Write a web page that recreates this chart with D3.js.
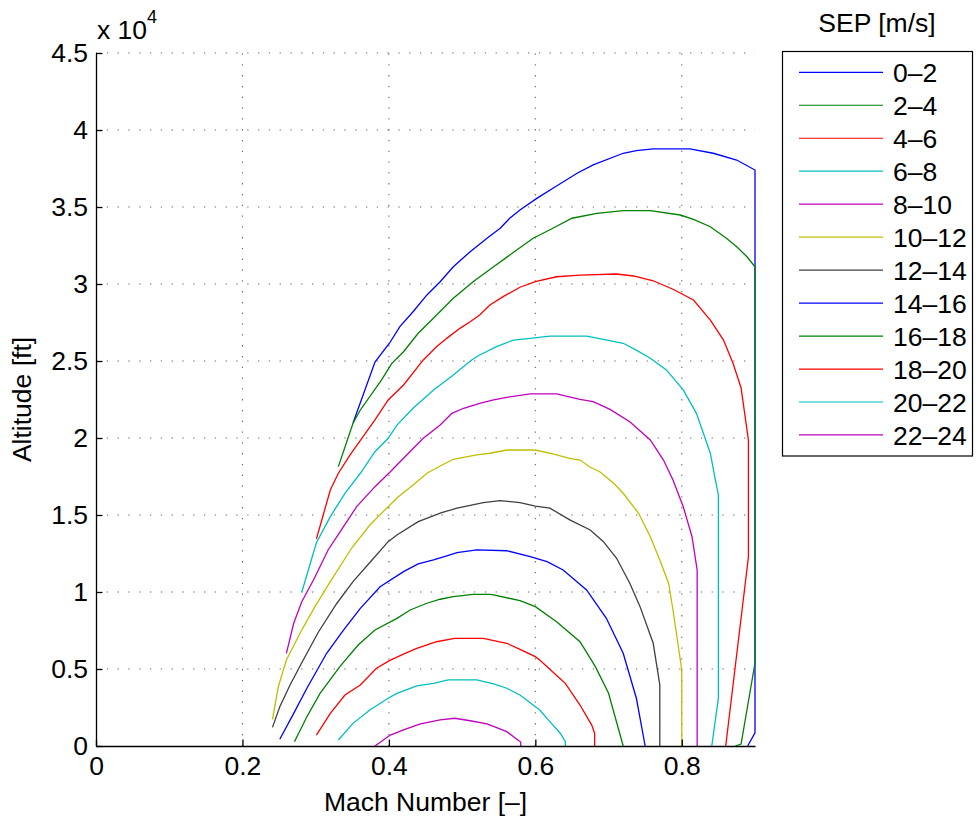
<!DOCTYPE html>
<html>
<head>
<meta charset="utf-8">
<script src="https://cdn.jsdelivr.net/npm/d3@7"></script>
<style>
  body { margin: 0; background: #fff; }
  svg text { font-family: "Liberation Sans", Arial, Helvetica, sans-serif; fill: #000; }
</style>
</head>
<body>
<div id="chart"></div>
<script>
// SEP contours, [Mach, altitude ft]
const sep0to2 = [[0.351,20970],[0.381,24930],[0.401,26170],[0.415,27230],[0.433,28200],[0.452,29290],[0.470,30150],[0.488,31120],[0.511,32100],[0.534,32970],[0.552,33620],[0.565,34270],[0.579,34800],[0.602,35560],[0.629,36360],[0.657,37190],[0.679,37730],[0.720,38490],[0.738,38660],[0.761,38770],[0.811,38770],[0.843,38490],[0.875,38050],[0.900,37400],[0.900,850],[0.890,0]];
const sep2to4 = [[0.331,18140],[0.351,20960],[0.361,21820],[0.390,23770],[0.404,24850],[0.420,25600],[0.440,26800],[0.456,27550],[0.472,28310],[0.488,29070],[0.515,30150],[0.543,31120],[0.565,31880],[0.597,32970],[0.622,33570],[0.650,34270],[0.684,34590],[0.720,34760],[0.757,34760],[0.798,34480],[0.816,34200],[0.839,33720],[0.861,32970],[0.875,32420],[0.889,31770],[0.900,31120],[0.900,5390],[0.881,130],[0.873,0]];
const sep4to6 = [[0.301,13440],[0.320,16620],[0.331,17710],[0.347,18900],[0.381,21170],[0.399,22470],[0.420,23440],[0.447,25070],[0.465,25930],[0.479,26470],[0.497,27120],[0.511,27550],[0.524,27990],[0.538,28640],[0.556,29180],[0.579,29790],[0.600,30150],[0.629,30470],[0.661,30580],[0.711,30650],[0.734,30520],[0.761,30210],[0.788,29660],[0.816,28960],[0.839,27660],[0.857,26360],[0.870,24850],[0.881,23250],[0.891,19870],[0.891,12270],[0.860,0]];
const sep6to8 = [[0.281,9980],[0.301,13200],[0.320,14890],[0.340,16410],[0.361,17710],[0.381,19110],[0.399,19980],[0.411,20840],[0.433,21930],[0.461,23120],[0.488,24090],[0.513,25070],[0.524,25390],[0.547,25930],[0.570,26360],[0.593,26470],[0.620,26620],[0.670,26620],[0.693,26410],[0.720,26150],[0.738,25710],[0.757,25180],[0.779,24420],[0.802,23120],[0.820,21600],[0.839,19010],[0.845,17490],[0.850,16300],[0.850,3120],[0.841,0]];
const sep8to10 = [[0.260,6020],[0.270,7970],[0.281,9370],[0.297,10780],[0.317,12730],[0.338,14240],[0.356,15540],[0.381,16840],[0.402,17810],[0.420,18680],[0.447,19980],[0.470,20840],[0.486,21600],[0.502,21930],[0.524,22250],[0.543,22470],[0.561,22640],[0.593,22860],[0.629,22860],[0.661,22510],[0.679,22360],[0.702,21860],[0.729,21060],[0.757,19870],[0.775,18570],[0.788,17270],[0.802,15540],[0.814,13590],[0.821,11430],[0.821,0]];
const sep10to12 = [[0.241,1730],[0.249,3850],[0.260,5580],[0.281,7530],[0.299,9050],[0.320,10670],[0.349,12840],[0.374,14350],[0.399,15540],[0.413,16190],[0.433,16950],[0.452,17710],[0.470,18180],[0.488,18620],[0.520,18900],[0.538,19010],[0.561,19220],[0.600,19220],[0.625,18960],[0.647,18680],[0.661,18570],[0.675,18100],[0.688,17810],[0.707,17060],[0.720,16410],[0.741,15110],[0.757,13590],[0.770,12080],[0.782,10570],[0.788,8830],[0.800,4940],[0.800,4290],[0.800,0]];
const sep12to14 = [[0.241,1210],[0.251,2550],[0.265,3960],[0.283,5580],[0.304,7420],[0.329,9270],[0.351,10670],[0.377,12080],[0.399,13270],[0.411,13700],[0.440,14570],[0.472,15150],[0.493,15440],[0.529,15800],[0.552,15930],[0.579,15800],[0.600,15580],[0.620,15440],[0.647,14680],[0.675,14030],[0.693,13270],[0.711,12190],[0.729,10570],[0.743,9050],[0.761,6670],[0.770,3960],[0.770,0]];
const sep14to16 = [[0.251,440],[0.270,2120],[0.288,3750],[0.315,6020],[0.338,7530],[0.361,8940],[0.388,10340],[0.420,11320],[0.440,11820],[0.461,12080],[0.479,12340],[0.493,12550],[0.520,12730],[0.561,12680],[0.593,12290],[0.616,11970],[0.638,11430],[0.670,10130],[0.697,8290],[0.720,6020],[0.738,3100],[0.750,0]];
const sep16to18 = [[0.271,280],[0.288,1900],[0.306,3420],[0.333,5150],[0.358,6560],[0.381,7530],[0.411,8290],[0.429,8830],[0.452,9270],[0.470,9530],[0.488,9700],[0.515,9850],[0.538,9850],[0.543,9810],[0.579,9440],[0.600,9050],[0.629,8070],[0.661,6770],[0.682,5150],[0.700,3420],[0.720,0]];
const sep18to20 = [[0.301,710],[0.320,2120],[0.340,3310],[0.361,3960],[0.383,5050],[0.402,5580],[0.420,5960],[0.438,6340],[0.465,6770],[0.490,6990],[0.529,6990],[0.561,6670],[0.579,6280],[0.600,5800],[0.606,5580],[0.631,4500],[0.641,4070],[0.661,2660],[0.677,1360],[0.681,830],[0.681,0]];
const sep20to22 = [[0.331,390],[0.351,1470],[0.374,2340],[0.399,3100],[0.411,3420],[0.438,3900],[0.461,4070],[0.481,4290],[0.520,4290],[0.543,4030],[0.561,3750],[0.579,3310],[0.597,2660],[0.606,2340],[0.622,1470],[0.634,830],[0.641,280],[0.641,0]];
const sep22to24 = [[0.381,0],[0.402,710],[0.420,1040],[0.443,1430],[0.470,1690],[0.490,1800],[0.511,1640],[0.534,1430],[0.561,930],[0.580,260],[0.580,0]];

const sepLabels = ["0–2","2–4","4–6","6–8","8–10","10–12","12–14","14–16","16–18","18–20","20–22","22–24"];
const sepLines = [sep0to2, sep2to4, sep4to6, sep6to8, sep8to10, sep10to12, sep12to14, sep14to16, sep16to18, sep18to20, sep20to22, sep22to24];
const lineColors = ["#0000ff","#008000","#ff0000","#00bfbf","#bf00bf","#bfbf00","#404040"];

const xTicks = [0, 0.2, 0.4, 0.6, 0.8];
const yTicks = [0, 5000, 10000, 15000, 20000, 25000, 30000, 35000, 40000, 45000];

const W = 976, H = 821;
const fontSize = 26.5;

const svg = d3.select("#chart").append("svg")
  .attr("width", W).attr("height", H);

const x = d3.scaleLinear().domain([0, 0.9]).range([96, 755]);
const y = d3.scaleLinear().domain([0, 45000]).range([746, 53]);

// dotted grid
const grid = svg.append("g").attr("stroke", "#666").attr("stroke-width", 1.1)
  .attr("stroke-dasharray", "1.3,9.5");
grid.selectAll("line.v").data(xTicks.filter(d => d > 0)).enter().append("line")
  .attr("x1", d => x(d)).attr("x2", d => x(d))
  .attr("y1", y(0)).attr("y2", y(45000));
grid.selectAll("line.h").data(yTicks.filter(d => d > 0)).enter().append("line")
  .attr("y1", d => y(d)).attr("y2", d => y(d))
  .attr("x1", x(0)).attr("x2", x(0.9));

// contours
const line = d3.line().x(d => x(d[0])).y(d => y(d[1]));
svg.append("g").selectAll("path").data(sepLines).enter().append("path")
  .attr("d", line)
  .attr("fill", "none")
  .attr("stroke", (d, i) => lineColors[i % lineColors.length])
  .attr("stroke-width", 1.3);

// axes
const xAxis = svg.append("g").attr("transform", "translate(0," + y(0) + ")")
  .call(d3.axisBottom(x).tickValues(xTicks).tickSizeInner(-6.5).tickSizeOuter(0)
    .tickPadding(10).tickFormat(d => d === 0 ? "0" : d3.format(".1f")(d)));
const yAxis = svg.append("g").attr("transform", "translate(" + x(0) + ",0)")
  .call(d3.axisLeft(y).tickValues(yTicks).tickSizeInner(-6.5).tickSizeOuter(0)
    .tickPadding(8).tickFormat(d => String(d / 1e4)));
[xAxis, yAxis].forEach(a => {
  a.select(".domain").attr("stroke", "#000").attr("stroke-width", 1.3);
  a.selectAll(".tick line").attr("stroke", "#000").attr("stroke-width", 1.3);
  a.selectAll(".tick text").attr("font-size", fontSize)
    .attr("font-family", "'Liberation Sans', Arial, Helvetica, sans-serif").attr("fill", "#000");
});

// exponent label
const expo = svg.append("text").attr("x", 97).attr("y", 39).attr("font-size", fontSize);
expo.append("tspan").text("x 10");
expo.append("tspan").attr("font-size", 18).attr("dy", -16).text("4");

// axis titles
svg.append("text").attr("x", (x(0) + x(0.9)) / 2).attr("y", 811)
  .attr("text-anchor", "middle").attr("font-size", fontSize).text("Mach Number [–]");
svg.append("text").attr("transform", "translate(31," + (y(0) + y(45000)) / 2 + ") rotate(-90)")
  .attr("text-anchor", "middle").attr("font-size", fontSize).text("Altitude [ft]");

// legend
svg.append("text").attr("x", 877).attr("y", 32).attr("text-anchor", "middle")
  .attr("font-size", fontSize).text("SEP [m/s]");
svg.append("rect").attr("x", 782.5).attr("y", 51.5).attr("width", 190).attr("height", 404.5)
  .attr("fill", "#fff").attr("stroke", "#000").attr("stroke-width", 1.2);
const legendRow = svg.append("g").selectAll("g").data(sepLabels).enter().append("g")
  .attr("transform", (d, i) => "translate(0," + (72.3 + i * 32.97) + ")");
legendRow.append("line").attr("x1", 799).attr("x2", 883).attr("y1", 0).attr("y2", 0)
  .attr("stroke", (d, i) => lineColors[i % lineColors.length]).attr("stroke-width", 1.2);
legendRow.append("text").attr("x", 893).attr("y", 10).attr("font-size", fontSize).text(d => d);
</script>
</body>
</html>
